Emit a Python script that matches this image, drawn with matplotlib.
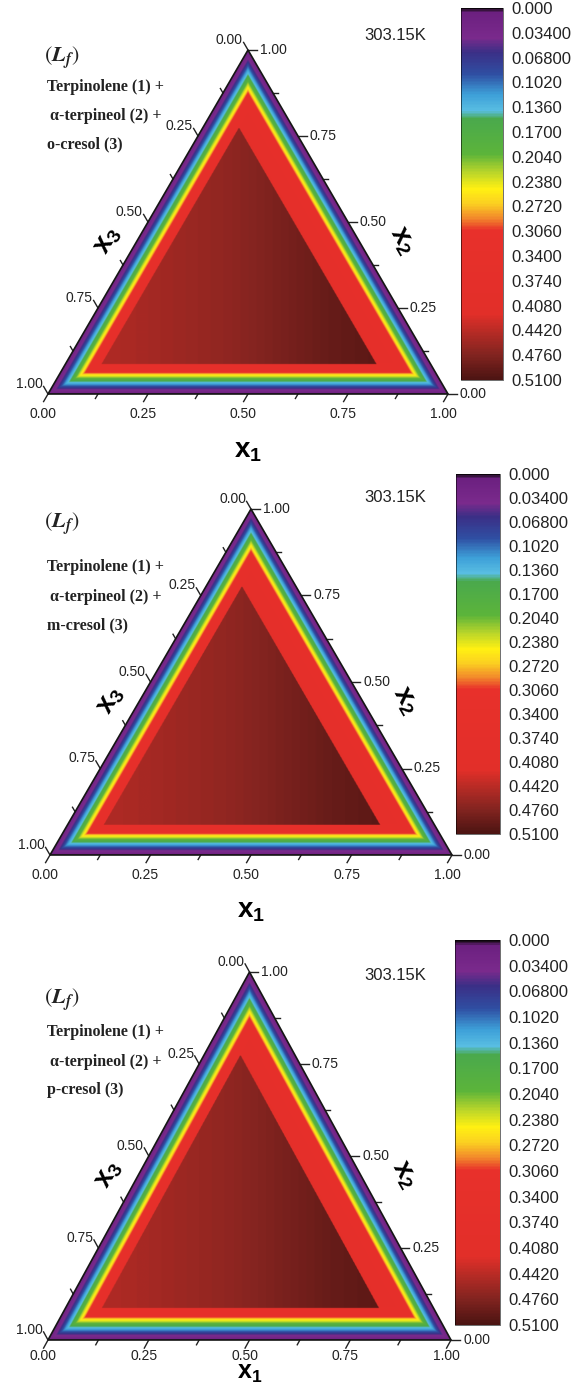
# -*- coding: utf-8 -*-
"""
Ternary contour maps of L_f for terpinolene + alpha-terpineol + cresol at 303.15 K
"""
import numpy as np
import matplotlib
matplotlib.use('Agg')
import matplotlib.pyplot as plt
from matplotlib.colors import LinearSegmentedColormap, Normalize
from matplotlib.cm import ScalarMappable
from matplotlib.patches import Polygon
from matplotlib.transforms import offset_copy

plt.rcParams['font.family'] = ['Liberation Sans', 'DejaVu Sans']

# Data:
cresols = ['o-cresol (3)', 'm-cresol (3)', 'p-cresol (3)']
temperature = '303.15K'
# L_f profile going inward from an edge, vs. min mole fraction
edge_dist = [0.000, 0.003, 0.013, 0.019, 0.025, 0.030, 0.036, 0.043, 0.049, 0.055, 0.059, 0.065, 0.200]
edge_lf = [0.000, 0.020, 0.045, 0.075, 0.105, 0.128, 0.150, 0.185, 0.225, 0.255, 0.285, 0.330, 0.400]
# where the red band ends on each edge: x1 (left), x2 (bottom), x3 (right)
interior_cut = [0.090, 0.086, 0.135]
# interior L_f vs horizontal position along the x1 axis
interior_x = [0.00, 0.20, 0.45, 0.70, 1.00]
interior_lf = [[0.443, 0.451, 0.467, 0.492, 0.510],
               [0.443, 0.451, 0.467, 0.492, 0.510],
               [0.443, 0.451, 0.467, 0.492, 0.510]]
cbar_ticks = [0.0, 0.034, 0.068, 0.102, 0.136, 0.170, 0.204, 0.238,
              0.272, 0.306, 0.340, 0.374, 0.408, 0.442, 0.476, 0.510]
cbar_labels = ['0.000', '0.03400', '0.06800', '0.1020', '0.1360', '0.1700',
               '0.2040', '0.2380', '0.2720', '0.3060', '0.3400', '0.3740',
               '0.4080', '0.4420', '0.4760', '0.5100']
major_ticks = [0.0, 0.25, 0.50, 0.75, 1.0]
minor_ticks = [0.125, 0.375, 0.625, 0.875]
major_labels = ['0.00', '0.25', '0.50', '0.75', '1.00']

# colour scale (value, colour)
vmax = 0.51
stops = [(0.000, '#1c0c1c'), (0.006, '#6c2080'), (0.040, '#7a2a8c'),
         (0.060, '#3b2f86'), (0.090, '#2f4ea2'), (0.118, '#3d9fd8'),
         (0.140, '#58bde2'), (0.152, '#4aa94c'), (0.200, '#5cb43a'),
         (0.225, '#b9d52a'), (0.248, '#fff012'), (0.268, '#fbd021'),
         (0.288, '#f2892b'), (0.305, '#e8302b'), (0.420, '#e22f29'),
         (0.445, '#b62b25'), (0.475, '#842420'), (0.510, '#4c1412')]
cmap = LinearSegmentedColormap.from_list('lf', [(v / vmax, c) for v, c in stops])
norm = Normalize(vmin=0.0, vmax=vmax)

W, H = 581, 1388
S = np.sqrt(3) / 2
fig = plt.figure(figsize=(W / 100, H / 100), dpi=100)

# pixel layout: triangle left/right/apex/base, colourbar x0,x1,y0,y1, text rows,
# x1 title gap (top of title below base) and size, gap of x1 tick labels
panels = [
    dict(L=48, R=448, A=50, B=394, cb=(461, 503, 8, 380), T=(36, 58, 87, 116, 144), g=44, fs=20, tg=13),
    dict(L=50, R=452, A=509, B=855, cb=(456, 500, 474, 834), T=(497, 524, 567, 597, 625), g=43, fs=20, tg=13),
    dict(L=48, R=451, A=972, B=1340, cb=(455, 500, 940, 1325), T=(975, 1000, 1032, 1062, 1090), g=21, fs=18, tg=9),
]

# composition grid
xs = np.linspace(0, 1, 800)
ys = np.linspace(0, S, 700)
X, Y = np.meshgrid(xs, ys)
c2 = Y / S
c1 = X - 0.5 * c2
c3 = 1 - c1 - c2
m = np.minimum(np.minimum(c1, c2), c3)
inside = np.minimum(np.minimum(c1 / interior_cut[0], c2 / interior_cut[1]), c3 / interior_cut[2])

for i, p in enumerate(panels):
    ax = fig.add_axes([p['L'] / W, 1 - p['B'] / H, (p['R'] - p['L']) / W, (p['B'] - p['A']) / H])
    ax.set_xlim(0, 1)
    ax.set_ylim(0, S)
    ax.axis('off')

    Z = np.interp(m, edge_dist, edge_lf)
    Z = np.where(inside >= 1, np.interp(X, interior_x, interior_lf[i]), Z)
    Z[m < 0] = np.nan
    im = ax.imshow(Z, extent=(0, 1, 0, S), origin='lower', cmap=cmap, norm=norm,
                   aspect='auto', interpolation='bilinear')
    tri = Polygon([[0, 0], [1, 0], [0.5, S]], closed=True, fill=False,
                  ec='#151515', lw=1.2, clip_on=False, zorder=3)
    ax.add_patch(tri)
    im.set_clip_path(tri)

    # ticks
    for ticks, tl in ((major_ticks, 0.022), (minor_ticks, 0.013)):
        for t in ticks:
            # bottom (x1)
            ax.plot([t, t - 0.5 * tl], [0, -S * tl], color='#222222', lw=1, clip_on=False)
            # right (x2)
            ax.plot([1 - 0.5 * t, 1 - 0.5 * t + tl], [S * t, S * t], color='#222222', lw=1, clip_on=False)
            # left (x3)
            ax.plot([0.5 * (1 - t), 0.5 * (1 - t) - 0.5 * tl], [S * (1 - t), S * (1 - t) + S * tl],
                    color='#222222', lw=1, clip_on=False)
    for t, lab in zip(major_ticks, major_labels):
        ax.text(t, 0, lab, transform=offset_copy(ax.transData, fig, x=-5, y=-p['tg'], units='dots'),
                ha='center', va='top', fontsize=10, color='#222222')
        ax.text(1 - 0.5 * t, S * t, lab, transform=offset_copy(ax.transData, fig, x=12, y=0, units='dots'),
                ha='left', va='center', fontsize=10, color='#222222')
        ax.text(0.5 * (1 - t), S * (1 - t), lab, transform=offset_copy(ax.transData, fig, x=-5, y=3, units='dots'),
                ha='right', va='bottom', fontsize=10, color='#222222')

    ax.text(0.5, 0, r'$\mathregular{x_1}$', transform=offset_copy(ax.transData, fig, x=0, y=-p['g'], units='dots'),
            ha='center', va='top', fontsize=p['fs'], fontweight='bold')
    ax.text(0.25, S / 2, r'$\mathregular{x_3}$', transform=offset_copy(ax.transData, fig, x=-40, y=-18, units='dots'),
            ha='center', va='center', fontsize=20, fontweight='bold', rotation=60)
    ax.text(0.75, S / 2, r'$\mathregular{x_2}$', transform=offset_copy(ax.transData, fig, x=54, y=-18, units='dots'),
            ha='center', va='center', fontsize=20, fontweight='bold', rotation=-60)

    # annotations
    T = p['T']
    fig.text(426 / W, 1 - T[0] / H, temperature, ha='right', va='center', fontsize=12, color='#222222')
    fig.text(44 / W, 1 - T[1] / H, r'$(\mathbfit{L}_\mathbfit{f})$', ha='left', va='center',
             fontsize=16, math_fontfamily='stix', color='#222222')
    fig.text(47 / W, 1 - T[2] / H, 'Terpinolene (1) +', ha='left', va='center', fontsize=11.5,
             fontweight='bold', family='Liberation Serif', color='#222222')
    fig.text(50 / W, 1 - T[3] / H, '\u03b1-terpineol (2) +', ha='left', va='center', fontsize=11.5,
             fontweight='bold', family='Liberation Serif', color='#222222')
    fig.text(47 / W, 1 - T[4] / H, cresols[i], ha='left', va='center', fontsize=11.5,
             fontweight='bold', family='Liberation Serif', color='#222222')

    # colour bar
    x0, x1, y0, y1 = p['cb']
    cax = fig.add_axes([x0 / W, 1 - y1 / H, (x1 - x0) / W, (y1 - y0) / H])
    cb = fig.colorbar(ScalarMappable(norm=norm, cmap=cmap), cax=cax, ticks=cbar_ticks)
    cax.set_ylim(vmax, 0)
    cb.set_ticklabels(cbar_labels)
    cax.tick_params(length=0, labelsize=12, pad=6, colors='#222222')
    cb.outline.set_linewidth(0.4)

fig.savefig('out.png', dpi=100)
